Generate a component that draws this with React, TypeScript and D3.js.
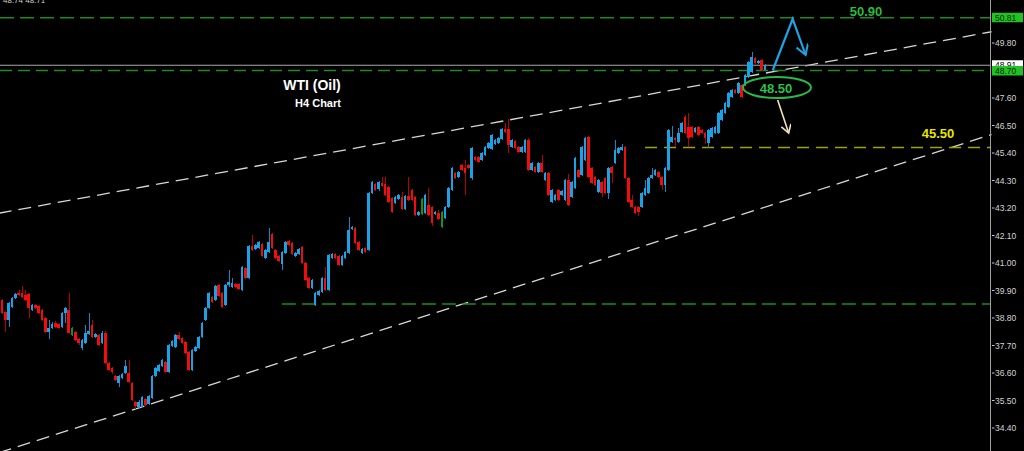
import React from 'react';
import * as d3 from 'd3';

// ---- Candle data (H4 WTI) ----
const opens = [
  39.52, 39.04, 38.72, 39.24, 39.60, 39.80, 39.80, 39.72, 39.76, 39.12,
  39.32, 39.28, 39.12, 38.80, 38.24, 38.40, 38.60, 38.56, 38.44, 39.00,
  39.12, 38.12, 38.24, 37.96, 37.60, 37.80, 38.16, 38.52, 38.04, 38.12,
  37.80, 38.20, 37.00, 36.80, 36.48, 36.20, 36.40, 36.60, 36.60, 36.20,
  35.44, 35.24, 35.28, 35.56, 35.36, 35.60, 36.48, 36.68, 36.88, 37.04,
  36.64, 37.68, 37.64, 38.12, 38.00, 37.84, 37.44, 36.72, 37.48, 37.60,
  38.04, 38.72, 39.20, 39.64, 39.52, 40.12, 39.80, 39.32, 40.12, 40.04,
  40.16, 40.16, 39.92, 40.80, 40.40, 41.68, 41.56, 41.60, 41.76, 41.20,
  41.44, 42.16, 41.52, 41.28, 40.96, 41.40, 41.88, 41.80, 41.28, 41.36,
  41.64, 41.00, 40.40, 40.00, 39.32, 39.72, 39.84, 40.40, 39.92, 41.20,
  41.36, 41.28, 40.92, 41.20, 41.40, 42.36, 42.40, 41.84, 41.40, 41.60,
  41.52, 43.80, 44.16, 43.96, 44.20, 44.16, 44.04, 43.60, 43.40, 43.56,
  43.64, 43.16, 43.68, 43.92, 43.64, 42.92, 42.96, 43.00, 43.32, 43.24,
  42.96, 43.00, 42.44, 42.80, 43.24, 43.92, 44.60, 44.44, 44.92, 44.80,
  44.92, 44.40, 45.24, 45.24, 45.12, 45.32, 45.60, 45.56, 45.76, 45.80,
  45.96, 46.36, 46.36, 45.64, 45.88, 45.64, 45.44, 45.44, 45.92, 44.72,
  44.84, 44.64, 45.00, 44.32, 44.60, 43.44, 43.52, 43.92, 43.72, 43.52,
  44.32, 43.64, 44.00, 44.72, 44.52, 45.12, 46.04, 44.80, 44.44, 43.84,
  44.24, 44.40, 43.80, 44.84, 45.00, 45.40, 45.52, 45.64, 44.40, 43.52,
  43.24, 43.24, 43.24, 43.72, 43.80, 44.40, 44.52, 44.64, 44.44, 44.12,
  44.72, 45.84, 46.00, 45.84, 46.24, 46.84, 46.44, 46.44, 46.24, 46.44,
  46.32, 46.20, 45.80, 46.04, 46.20, 46.20, 46.72, 47.00, 47.24, 47.64,
  47.92, 47.80, 48.12, 48.12, 48.44, 48.64, 49.20, 49.00, 49.12, 48.72,
];
const highs = [
  39.56, 39.08, 39.44, 39.64, 39.80, 39.92, 40.08, 39.92, 39.80, 39.36,
  39.36, 39.32, 39.16, 38.84, 38.72, 38.64, 38.68, 38.60, 39.04, 39.24,
  39.80, 38.44, 38.28, 38.00, 37.96, 38.52, 39.00, 38.72, 38.20, 38.16,
  38.28, 38.28, 37.04, 36.84, 36.52, 36.52, 36.60, 37.12, 37.12, 36.24,
  35.48, 35.52, 35.68, 35.60, 35.72, 36.52, 36.84, 36.96, 37.16, 37.08,
  37.76, 37.92, 38.16, 38.24, 38.04, 37.88, 37.48, 37.56, 37.68, 38.08,
  38.64, 39.24, 39.84, 39.68, 40.12, 40.16, 39.84, 40.16, 40.72, 40.40,
  40.20, 40.20, 40.88, 40.84, 41.72, 42.12, 41.76, 41.88, 41.80, 41.56,
  42.40, 42.20, 41.56, 41.32, 41.48, 41.88, 41.92, 41.84, 41.44, 41.60,
  41.68, 41.04, 40.44, 40.36, 39.84, 39.92, 40.44, 40.84, 41.36, 41.40,
  41.40, 41.32, 41.32, 41.48, 42.84, 42.48, 42.44, 41.88, 41.60, 41.64,
  43.84, 44.28, 44.20, 44.28, 44.44, 44.44, 44.08, 43.64, 43.68, 43.76,
  43.84, 43.72, 44.44, 43.96, 43.68, 43.08, 43.60, 43.76, 44.00, 43.28,
  43.08, 43.12, 43.08, 43.28, 44.04, 44.84, 44.64, 44.68, 44.96, 45.12,
  44.96, 45.64, 45.28, 45.28, 45.44, 45.68, 45.84, 46.16, 45.96, 46.04,
  46.40, 46.60, 46.76, 45.96, 45.92, 45.68, 45.68, 45.96, 46.00, 45.04,
  44.88, 45.04, 45.32, 44.64, 44.64, 43.96, 43.76, 43.96, 43.92, 44.36,
  44.56, 44.28, 45.24, 44.76, 45.68, 46.04, 46.08, 44.84, 44.48, 44.36,
  44.28, 44.44, 44.84, 44.88, 45.92, 45.64, 45.76, 45.68, 44.44, 43.72,
  43.28, 43.28, 43.84, 44.32, 44.44, 44.80, 44.76, 44.68, 44.48, 44.84,
  46.36, 46.48, 46.04, 46.40, 46.64, 46.92, 47.00, 46.48, 46.44, 46.48,
  46.36, 46.24, 46.36, 46.44, 46.48, 47.04, 47.16, 47.44, 47.84, 47.96,
  47.96, 48.24, 48.16, 48.56, 49.08, 49.44, 49.24, 49.12, 49.16, 48.96,
];
const lows = [
  38.98, 38.24, 38.44, 39.20, 39.56, 39.68, 39.60, 39.48, 38.80, 39.08,
  39.16, 38.96, 38.68, 38.20, 37.96, 38.36, 38.40, 38.36, 38.40, 38.60,
  38.16, 38.08, 37.88, 37.72, 37.52, 37.76, 38.12, 38.00, 38.00, 37.68,
  37.76, 36.96, 36.68, 36.56, 36.28, 36.04, 36.36, 36.56, 36.20, 35.48,
  35.16, 35.20, 35.24, 35.28, 35.32, 35.56, 36.44, 36.64, 36.84, 36.60,
  36.60, 37.64, 37.60, 37.92, 37.76, 37.36, 36.68, 36.68, 37.44, 37.56,
  38.00, 38.68, 39.16, 39.40, 39.48, 39.64, 39.20, 39.28, 40.04, 40.00,
  40.00, 39.92, 39.88, 40.36, 40.36, 41.48, 41.52, 41.56, 41.24, 41.16,
  41.40, 41.56, 41.16, 41.04, 40.72, 41.36, 41.68, 41.32, 41.24, 41.32,
  40.96, 40.28, 39.96, 39.96, 39.28, 39.68, 39.80, 39.88, 39.88, 41.16,
  41.16, 40.88, 40.88, 41.16, 41.36, 42.32, 41.76, 41.48, 41.36, 41.40,
  41.48, 43.76, 43.88, 43.88, 44.04, 43.68, 43.40, 43.00, 43.36, 43.52,
  43.12, 43.12, 43.48, 43.48, 42.88, 42.88, 42.92, 42.96, 42.88, 42.48,
  42.92, 42.72, 42.40, 42.76, 43.20, 43.88, 44.36, 44.40, 44.68, 43.72,
  44.76, 44.32, 45.08, 45.00, 45.08, 45.28, 45.56, 45.52, 45.72, 45.76,
  45.92, 46.20, 45.40, 45.60, 45.56, 45.40, 45.40, 45.40, 44.68, 44.68,
  44.60, 44.60, 44.60, 44.28, 43.68, 43.40, 43.48, 43.48, 43.68, 43.48,
  43.28, 43.60, 43.96, 44.40, 44.48, 45.08, 44.40, 44.16, 44.08, 43.80,
  43.64, 43.76, 43.56, 44.20, 44.96, 45.36, 45.48, 44.36, 43.40, 43.20,
  42.96, 42.88, 43.20, 43.68, 43.76, 44.36, 44.48, 44.40, 43.92, 43.84,
  44.68, 45.80, 45.64, 45.80, 46.20, 46.16, 45.64, 46.00, 46.20, 46.08,
  46.16, 45.76, 45.60, 46.00, 46.16, 46.16, 46.68, 46.96, 47.20, 47.60,
  47.76, 47.76, 47.60, 48.08, 48.40, 48.60, 48.96, 48.96, 48.68, 48.68,
];
const closes = [
  39.00, 38.72, 39.40, 39.60, 39.76, 39.72, 39.64, 39.52, 39.20, 39.32,
  39.20, 39.00, 38.72, 38.24, 38.40, 38.56, 38.44, 38.40, 39.00, 39.20,
  38.20, 38.40, 37.92, 37.80, 37.92, 38.20, 38.28, 38.04, 38.16, 37.72,
  38.20, 37.00, 36.72, 36.64, 36.32, 36.48, 36.56, 36.88, 36.24, 35.52,
  35.28, 35.44, 35.64, 35.32, 35.68, 36.48, 36.80, 36.92, 37.12, 36.64,
  37.72, 37.88, 38.12, 37.96, 37.80, 37.40, 36.72, 37.52, 37.64, 38.04,
  38.60, 39.20, 39.80, 39.44, 40.08, 39.68, 39.24, 40.12, 40.24, 40.20,
  40.04, 39.96, 40.84, 40.40, 41.68, 41.52, 41.72, 41.84, 41.28, 41.52,
  41.84, 41.60, 41.20, 41.08, 41.44, 41.84, 41.72, 41.36, 41.40, 41.56,
  41.00, 40.32, 40.00, 40.32, 39.80, 39.88, 40.40, 39.92, 41.32, 41.36,
  41.20, 40.92, 41.28, 41.44, 42.32, 42.44, 41.80, 41.52, 41.56, 41.44,
  43.80, 44.24, 43.92, 44.24, 44.08, 43.72, 43.44, 43.04, 43.64, 43.72,
  43.16, 43.68, 43.52, 43.52, 42.92, 43.04, 43.56, 43.72, 42.92, 42.60,
  43.04, 42.76, 43.04, 43.24, 44.00, 44.80, 44.40, 44.64, 44.72, 44.60,
  44.80, 45.60, 45.12, 45.04, 45.40, 45.64, 45.80, 46.12, 45.92, 46.00,
  46.36, 46.24, 45.72, 45.92, 45.60, 45.44, 45.64, 45.92, 44.72, 45.00,
  44.64, 45.00, 44.64, 44.60, 43.72, 43.92, 43.72, 43.52, 43.88, 44.32,
  43.32, 44.24, 45.20, 44.44, 45.64, 46.00, 44.44, 44.20, 44.12, 44.32,
  43.80, 43.80, 44.80, 44.60, 45.52, 45.60, 45.64, 44.40, 43.44, 43.24,
  43.00, 43.04, 43.80, 44.00, 44.40, 44.52, 44.72, 44.44, 44.12, 44.80,
  46.32, 46.04, 45.92, 46.20, 46.60, 46.20, 46.00, 46.04, 46.40, 46.12,
  46.20, 46.00, 46.32, 46.40, 46.44, 47.00, 47.12, 47.40, 47.80, 47.92,
  47.80, 48.20, 47.64, 48.52, 49.04, 49.24, 49.00, 49.08, 48.72, 48.92,
];
const greenIdx = [21, 126, 132];

// Price axis labels
const axisTicks = [49.80, 48.70, 47.60, 46.50, 45.40, 44.30, 43.20, 42.10, 41.00, 39.90, 38.80, 37.70, 36.60, 35.50, 34.40];

// Levels & drawings (bar index, price)
const resistanceLevel = 50.81;
const pivotLevel = 48.70;
const lastPrice = 48.91;
const yellowLevel = 45.62;
const yellowStartIdx = 193;
const supportLevel = 39.36;
const supportStartIdx = 84;
const trendUpper: [number, number][] = [[-1, 42.99], [297, 50.25]];
const trendLower: [number, number][] = [[-1, 33.41], [297, 46.14]];
const blueArrow: [number, number][] = [[231.3, 48.70], [237.3, 50.76], [241.2, 49.32]];
const beigeArrow: [number, number][] = [[232.8, 47.52], [236.1, 46.20]];
const ellipseCenter: [number, number] = [232.6, 48.02];
const targetLabel = '50.90';
const pivotLabel = '48.50';
const lowerTargetLabel = '45.50';

const W = 1024;
const H = 451;
const AXIS_X = 990.5;

export default function App() {
  const N = closes.length;
  const x = d3.scaleLinear().domain([0, N - 1]).range([2, 765]);
  const y = d3.scaleLinear().domain([34.4, 49.8]).range([428, 43]);
  const line = d3.line<[number, number]>().x((d) => x(d[0])).y((d) => y(d[1]));
  const fmt = d3.format('.2f');
  const font = "'Liberation Sans', Arial, sans-serif";

  const candles = d3.range(N).map((i) => {
    const o = opens[i], c = closes[i], h = highs[i], l = lows[i];
    const up = c >= o;
    const green = greenIdx.includes(i);
    const bodyCol = green ? '#0c9a12' : up ? '#19a2e6' : '#f40c0c';
    const wickCol = green ? '#0a8a0e' : up ? '#1488c4' : '#b80000';
    const cx = x(i);
    const top = y(Math.max(o, c));
    const bot = y(Math.min(o, c));
    return (
      <g key={i}>
        <rect x={Math.round(cx) - 0.5} y={y(h)} width={1} height={Math.max(1, y(l) - y(h))} fill={wickCol} shapeRendering="crispEdges" />
        <rect x={cx - 1.3} y={top} width={2.6} height={Math.max(1, bot - top)} fill={bodyCol} shapeRendering="crispEdges" />
      </g>
    );
  });

  return (
    <svg width={W} height={H} style={{ position: 'fixed', left: 0, top: 0, background: '#000' }}>
      <defs>
        <marker id="arrB" markerUnits="userSpaceOnUse" markerWidth="16" markerHeight="16" refX="11" refY="6" orient="auto">
          <path d="M1,0 L11,6 L1,12" fill="none" stroke="#1ea2e4" strokeWidth={2} />
        </marker>
        <marker id="arrY" markerUnits="userSpaceOnUse" markerWidth="16" markerHeight="16" refX="9" refY="5" orient="auto">
          <path d="M1,0 L9,5 L1,10" fill="none" stroke="#f2e4bc" strokeWidth={1.6} />
        </marker>
      </defs>
      <rect x={0} y={0} width={W} height={H} fill="#000" />

      <text x={3} y={3} fontSize={8} fill="#cfcfcf" fontFamily={font}>48.74 48.71</text>

      {/* trend lines */}
      <path d={line(trendUpper) || ''} stroke="#d8d8d8" strokeWidth={1.3} strokeDasharray="13 7" fill="none" />
      <path d={line(trendLower) || ''} stroke="#d8d8d8" strokeWidth={1.3} strokeDasharray="13 7" fill="none" />

      {/* horizontal levels */}
      <line x1={0} x2={AXIS_X} y1={y(resistanceLevel)} y2={y(resistanceLevel)} stroke="#1d8a1d" strokeWidth={1.5} strokeDasharray="14 6" />
      <line x1={0} x2={AXIS_X} y1={y(lastPrice)} y2={y(lastPrice)} stroke="#a8a8a8" strokeWidth={1} />
      <line x1={0} x2={AXIS_X} y1={y(pivotLevel)} y2={y(pivotLevel)} stroke="#1d8a1d" strokeWidth={1.5} strokeDasharray="12 6" />
      <line x1={x(yellowStartIdx)} x2={AXIS_X} y1={y(yellowLevel)} y2={y(yellowLevel)} stroke="#a3a300" strokeWidth={1.6} strokeDasharray="12 7" />
      <line x1={x(supportStartIdx)} x2={AXIS_X} y1={y(supportLevel)} y2={y(supportLevel)} stroke="#1d8a1d" strokeWidth={1.3} strokeDasharray="14 6" />

      {candles}

      {/* annotations */}
      <path d={line(blueArrow) || ''} fill="none" stroke="#1ea2e4" strokeWidth={2.2} strokeLinejoin="miter" markerEnd="url(#arrB)" />
      <path d={line(beigeArrow) || ''} fill="none" stroke="#f2e4bc" strokeWidth={1.6} markerEnd="url(#arrY)" />
      <ellipse cx={x(ellipseCenter[0])} cy={y(ellipseCenter[1])} rx={34} ry={10.5} fill="none" stroke="#2bb84a" strokeWidth={2} />
      <text x={x(ellipseCenter[0]) - 1} y={y(ellipseCenter[1]) + 5} textAnchor="middle" fontFamily={font} fontWeight="bold" fontSize={13} fill="#2fc04c">{pivotLabel}</text>
      <text x={866} y={y(50.99) + 3} textAnchor="middle" fontFamily={font} fontWeight="bold" fontSize={13} fill="#2fb83c">{targetLabel}</text>
      <text x={938} y={138} textAnchor="middle" fontFamily={font} fontWeight="bold" fontSize={13} fill="#e8e800">{lowerTargetLabel}</text>

      <text x={312} y={90} textAnchor="middle" fontFamily={font} fontWeight="bold" fontSize={14} fill="#ffffff">WTI (Oil)</text>
      <text x={318} y={107} textAnchor="middle" fontFamily={font} fontWeight="bold" fontSize={11} fill="#ffffff">H4 Chart</text>

      {/* price axis */}
      <line x1={AXIS_X} x2={AXIS_X} y1={0} y2={H} stroke="#a0a0a0" strokeWidth={1} />
      {axisTicks.map((t) => (
        <g key={t}>
          <line x1={AXIS_X + 1.5} x2={AXIS_X + 4} y1={y(t)} y2={y(t)} stroke="#c8c8c8" />
          <text x={995} y={y(t) + 3} fontSize={8.5} fill="#d4d4d4" fontFamily={font}>{fmt(t)}</text>
        </g>
      ))}
      <rect x={992} y={y(lastPrice) - 5} width={31} height={10} fill="#ffffff" />
      <text x={995} y={y(lastPrice) + 3} fontSize={8.5} fill="#000" fontFamily={font}>{fmt(lastPrice)}</text>
      <rect x={992} y={y(pivotLevel) - 4.5} width={31} height={9.5} fill="#22c222" />
      <text x={995} y={y(pivotLevel) + 3} fontSize={8.5} fill="#032a03" fontFamily={font}>{fmt(pivotLevel)}</text>
      <rect x={992} y={y(resistanceLevel) - 5} width={31} height={9.5} fill="#22c222" />
      <text x={995} y={y(resistanceLevel) + 3} fontSize={8.5} fill="#032a03" fontFamily={font}>{fmt(resistanceLevel)}</text>
    </svg>
  );
}
